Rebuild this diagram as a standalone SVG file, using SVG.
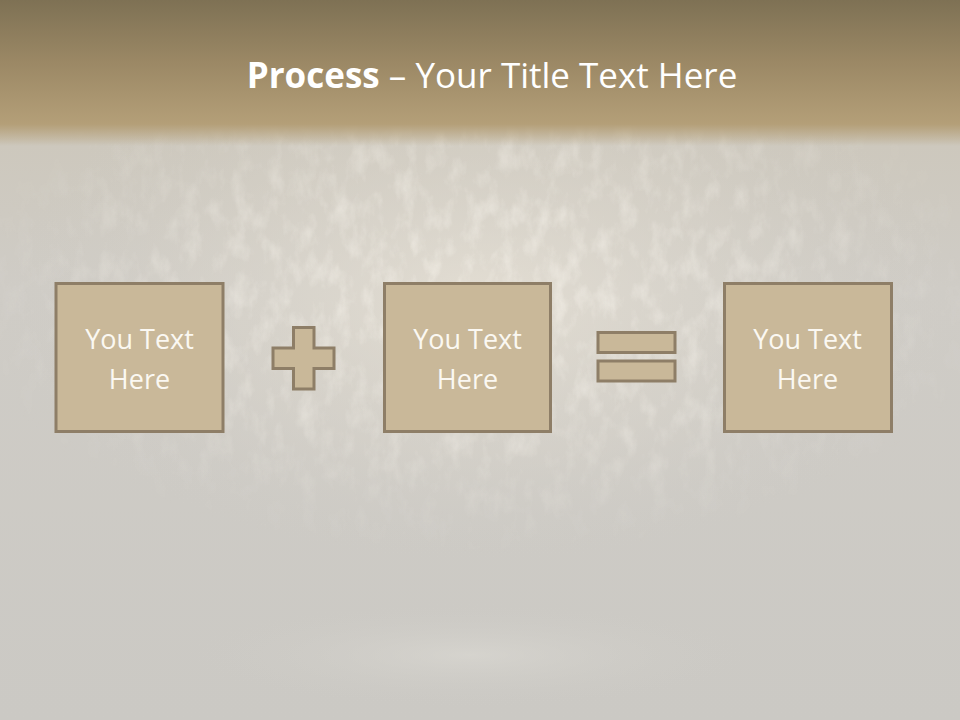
<svg xmlns="http://www.w3.org/2000/svg" width="960" height="720" viewBox="0 0 960 720">
<defs>
<linearGradient id="band" x1="0" y1="0" x2="0" y2="1">
<stop offset="0" stop-color="#7e7154"/>
<stop offset="0.5" stop-color="#9b8865"/>
<stop offset="1" stop-color="#b49f78"/>
</linearGradient>
<linearGradient id="fade" x1="0" y1="0" x2="0" y2="1">
<stop offset="0" stop-color="#b9a884"/>
<stop offset="0.2" stop-color="#cdc8bd"/>
<stop offset="0.4" stop-color="#cfccc6"/>
<stop offset="1" stop-color="#cbc9c4"/>
</linearGradient>
<radialGradient id="glow" cx="0.5" cy="0.35" r="0.5">
<stop offset="0" stop-color="#e8e2d6" stop-opacity="0.8"/>
<stop offset="0.6" stop-color="#ddd8ce" stop-opacity="0.35"/>
<stop offset="1" stop-color="#d0cdc7" stop-opacity="0"/>
</radialGradient>
<radialGradient id="floor" cx="0.5" cy="0.5" r="0.5">
<stop offset="0" stop-color="#dcdad4" stop-opacity="0.6"/>
<stop offset="1" stop-color="#cbc9c4" stop-opacity="0"/>
</radialGradient>
<filter id="grain" x="0" y="0" width="1" height="1">
<feTurbulence type="fractalNoise" baseFrequency="0.06 0.035" numOctaves="4" seed="7"/>
<feColorMatrix type="matrix" values="0 0 0 0 0.98  0 0 0 0 0.95  0 0 0 0 0.89  0 0 0 1.8 -0.8"/>
</filter>
<radialGradient id="grainMask" cx="0.5" cy="0.35" r="0.55">
<stop offset="0" stop-color="#fff" stop-opacity="0.9"/>
<stop offset="0.6" stop-color="#fff" stop-opacity="0.45"/>
<stop offset="1" stop-color="#fff" stop-opacity="0"/>
</radialGradient>
<linearGradient id="bandEdge" x1="0" y1="0" x2="0" y2="1">
<stop offset="0" stop-color="#b49f78" stop-opacity="1"/>
<stop offset="1" stop-color="#b49f78" stop-opacity="0"/>
</linearGradient>
<mask id="gm"><rect x="0" y="125" width="960" height="480" fill="url(#grainMask)"/></mask>
</defs>
<style>
.box{fill:#c9b899;stroke:#8e7e67;stroke-width:3}
.sym{fill:#c9b899;stroke:#8e7e67;stroke-width:3}
.lbl{font-family:"Open Sans","Liberation Sans",sans-serif;font-size:27px;fill:#fbf8f2;text-anchor:middle}
.title{font-family:"Open Sans","Liberation Sans",sans-serif;font-size:35px;fill:#ffffff;text-anchor:middle}
</style>
<g id="background">
<rect x="0" y="0" width="960" height="720" fill="url(#fade)"/>
<rect x="0" y="120" width="960" height="520" fill="url(#glow)"/>
<rect x="0" y="125" width="960" height="480" filter="url(#grain)" mask="url(#gm)" opacity="0.75"/>
<ellipse cx="470" cy="655" rx="300" ry="55" fill="url(#floor)"/>
<rect x="0" y="0" width="960" height="124" fill="url(#band)"/>
<rect x="0" y="124" width="960" height="22" fill="url(#bandEdge)"/>
</g>
<g id="title">
<text class="title" x="492" y="88"><tspan font-weight="bold">Process</tspan> – Your Title Text Here</text>
</g>
<g id="node1">
<rect class="box" x="56" y="283.5" width="167" height="148"/>
<text class="lbl" x="139.5" y="349">You Text</text>
<text class="lbl" x="139.5" y="389">Here</text>
</g>
<g id="plus">
<path class="sym" d="M293.5 327.5 H314 V348 H334 V368.5 H314 V389 H293.5 V368.5 H273 V348 H293.5 Z"/>
</g>
<g id="node2">
<rect class="box" x="384.5" y="283.5" width="166" height="148"/>
<text class="lbl" x="467.5" y="349">You Text</text>
<text class="lbl" x="467.5" y="389">Here</text>
</g>
<g id="equals">
<rect class="sym" x="598" y="332.5" width="77" height="20"/>
<rect class="sym" x="598" y="361" width="77" height="20"/>
</g>
<g id="node3">
<rect class="box" x="724.5" y="283.5" width="167" height="148"/>
<text class="lbl" x="807.5" y="349">You Text</text>
<text class="lbl" x="807.5" y="389">Here</text>
</g>
<g id="connectors"/>
</svg>
